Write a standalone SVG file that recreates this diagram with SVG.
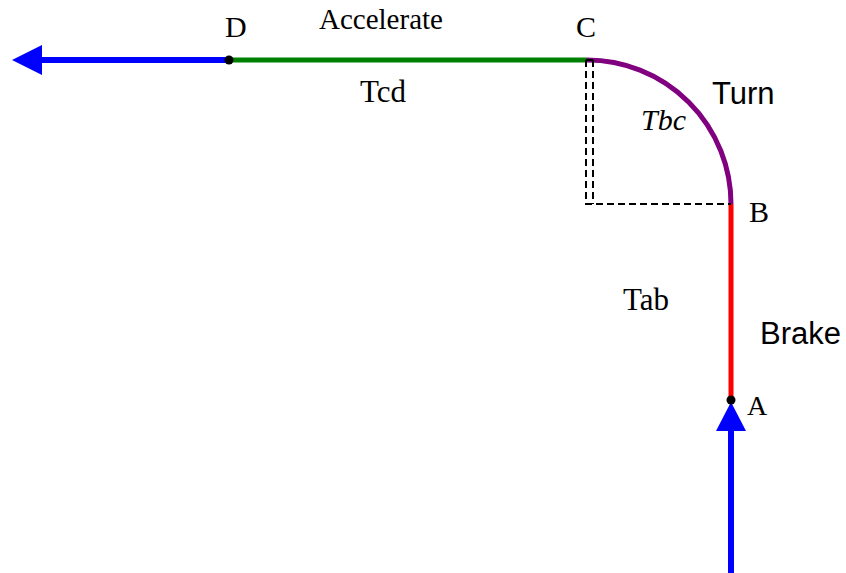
<svg xmlns="http://www.w3.org/2000/svg" width="846" height="573" viewBox="0 0 846 573">
<style>
.serif{font-family:"Liberation Serif","Times New Roman",serif;font-size:30px;fill:#000}
.sans{font-family:"Liberation Sans",Arial,sans-serif;font-size:31px;fill:#000}
.dash{stroke:#000;stroke-width:2;stroke-dasharray:7,4;fill:none}
.dot{fill:#000}
</style>
<rect width="846" height="573" fill="#fff"/>
<g id="connectors">
<line x1="40" y1="60" x2="229" y2="60" stroke="#0000ff" stroke-width="6"/>
<polygon points="12,60 42,45 42,75" fill="#0000ff"/>
<line x1="229" y1="60" x2="587" y2="60" stroke="#008000" stroke-width="5"/>
<path d="M587 60 A144 144 0 0 1 731 204" stroke="#800080" stroke-width="5" fill="none"/>
<line x1="731" y1="204" x2="731" y2="400" stroke="#ff0000" stroke-width="5"/>
<line x1="731" y1="428" x2="731" y2="573" stroke="#0000ff" stroke-width="6"/>
<polygon points="731,402 716,431 746,431" fill="#0000ff"/>
<path class="dash" d="M586 60 V204 H731 M593 60 V204 M586 60 H593"/>
</g>
<g id="D"><circle class="dot" cx="229" cy="60" r="4.5"/><text class="serif" x="225" y="37">D</text></g>
<g id="C"><text class="serif" x="576" y="37">C</text></g>
<g id="B"><text class="serif" x="749" y="222">B</text></g>
<g id="A"><circle class="dot" cx="731" cy="400" r="4.5"/><text class="serif" x="747" y="415" style="font-size:28px">A</text></g>
<g id="labels">
<text class="serif" x="319" y="29" style="font-size:29px">Accelerate</text>
<text class="serif" x="360" y="102" style="font-size:31px">Tcd</text>
<text class="serif" x="641" y="130" style="font-style:italic">Tbc</text>
<text class="sans" x="712" y="104">Turn</text>
<text class="serif" x="623" y="310" style="font-size:31px">Tab</text>
<text class="sans" x="760" y="344">Brake</text>
</g>
</svg>
